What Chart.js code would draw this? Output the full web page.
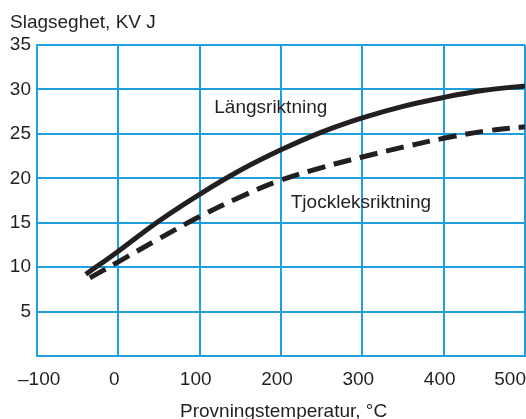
<!DOCTYPE html>
<html>
<head>
<meta charset="utf-8">
<script src="https://cdn.jsdelivr.net/npm/chart.js@4/dist/chart.umd.min.js"></script>
<style>
  html, body { margin: 0; padding: 0; background: #ffffff; }
  #wrap { width: 526px; height: 419px; position: relative; }
</style>
</head>
<body>
<div id="wrap"><canvas id="c" width="526" height="419"></canvas></div>
<script>
// Impact toughness (KV, J) against test temperature (°C)
const tempsLangs = [-40, 0, 50, 100, 150, 200, 250, 300, 350, 400, 450, 500];
const langsValues = [9.2, 11.8, 15.2, 18.2, 20.9, 23.2, 25.2, 26.8, 28.1, 29.1, 29.9, 30.4];

const tempsTjock = [-35, 0, 50, 100, 150, 200, 250, 300, 350, 400, 450, 500];
const tjockValues = [8.8, 10.6, 13.2, 15.7, 17.9, 19.8, 21.2, 22.4, 23.5, 24.5, 25.3, 25.8];

const xTicks = [-100, 0, 100, 200, 300, 400, 500];
const yTicks = [5, 10, 15, 20, 25, 30, 35];

const seriesNames = ['Längsriktning', 'Tjockleksriktning'];
const yTitle = 'Slagseghet, KV J';
const xTitle = 'Provningstemperatur, °C';

const FONT = '"Liberation Sans", Arial, Helvetica, sans-serif';
const INK = '#231f20';
const GRID = '#1fa0dc';

function toPoints(xs, ys) { return xs.map((x, i) => ({ x: x, y: ys[i] })); }

// Text that sits on the canvas: axis titles, x tick labels, curve labels
const textPlugin = {
  id: 'textLayer',
  afterDraw(chart) {
    const ctx = chart.ctx;
    const xs = chart.scales.x;
    const ys = chart.scales.y;
    const area = chart.chartArea;
    ctx.save();
    ctx.fillStyle = INK;
    ctx.font = '19px ' + FONT;
    ctx.textBaseline = 'alphabetic';

    // y-axis title above the plot
    ctx.textAlign = 'left';
    ctx.fillText(yTitle, 10, 28);

    // x tick labels, kept inside the canvas
    xTicks.forEach(v => {
      const txt = (v < 0 ? '\u2013' + Math.abs(v) : String(v));
      const w = ctx.measureText(txt).width;
      const cx = xs.getPixelForValue(v) - 4;
      let left = cx - w / 2;
      if (left < 18) left = 18;
      if (left + w > chart.width) left = chart.width - w;
      ctx.textAlign = 'left';
      ctx.fillText(txt, left, area.bottom + 29);
    });

    // x-axis title
    ctx.textAlign = 'left';
    ctx.fillText(xTitle, 180, 417);

    // curve labels
    ctx.fillText(seriesNames[0], xs.getPixelForValue(118), ys.getPixelForValue(27.3));
    ctx.fillText(seriesNames[1], xs.getPixelForValue(212), ys.getPixelForValue(16.6));
    ctx.restore();
  }
};

new Chart(document.getElementById('c'), {
  type: 'line',
  data: {
    datasets: [
      {
        label: seriesNames[0],
        data: toPoints(tempsLangs, langsValues),
        borderColor: INK,
        borderWidth: 5,
        pointRadius: 0,
        fill: false,
        tension: 0.4,
        borderCapStyle: 'butt'
      },
      {
        label: seriesNames[1],
        data: toPoints(tempsTjock, tjockValues),
        borderColor: INK,
        borderWidth: 5,
        borderDash: [18, 9],
        pointRadius: 0,
        fill: false,
        tension: 0.4,
        borderCapStyle: 'butt'
      }
    ]
  },
  options: {
    responsive: false,
    animation: false,
    devicePixelRatio: 1,
    layout: { padding: { top: 45, right: 1, left: 0, bottom: 0 } },
    plugins: {
      legend: { display: false },
      tooltip: { enabled: false },
      title: { display: false }
    },
    scales: {
      x: {
        type: 'linear',
        min: -100,
        max: 500,
        afterBuildTicks(scale) { scale.ticks = xTicks.map(v => ({ value: v })); },
        afterFit(scale) { scale.height = 63; scale.paddingLeft = 0; scale.paddingRight = 0; },
        ticks: { display: false },
        grid: { color: GRID, lineWidth: 2, drawTicks: false },
        border: { color: GRID, width: 2 }
      },
      y: {
        type: 'linear',
        min: 0,
        max: 35,
        afterBuildTicks(scale) { scale.ticks = [0].concat(yTicks).map(v => ({ value: v })); },
        afterFit(scale) { scale.width = 37; },
        ticks: {
          padding: 6,
          color: INK,
          font: { family: FONT, size: 19 },
          callback: v => (v === 0 ? '' : String(v))
        },
        grid: { color: GRID, lineWidth: 2, drawTicks: false },
        border: { color: GRID, width: 2 }
      }
    }
  },
  plugins: [textPlugin]
});
</script>
</body>
</html>
